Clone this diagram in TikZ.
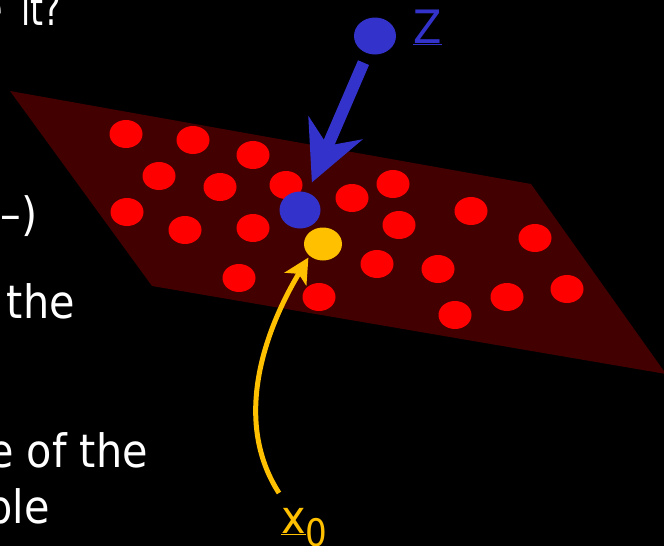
\documentclass[tikz,border=0pt]{standalone}
\usepackage{fontspec}
\setmainfont{DejaVu Sans}[FakeStretch=0.9]
\usetikzlibrary{shapes.geometric,arrows.meta}
\definecolor{planecol}{HTML}{420000}
\definecolor{dotred}{HTML}{FF0000}
\definecolor{dotblue}{HTML}{3333CC}
\definecolor{dotyel}{HTML}{FFC000}
\begin{document}
\begin{tikzpicture}[x=1pt,y=-1pt,
  reddot/.style={ellipse,fill=dotred,minimum width=33pt,minimum height=28pt,inner sep=0pt},
  bluedot/.style={ellipse,fill=dotblue,minimum width=41pt,minimum height=37pt,inner sep=0pt},
  yeldot/.style={ellipse,fill=dotyel,minimum width=38pt,minimum height=33pt,inner sep=0pt},
  slidetext/.style={text=white,font=\fontsize{46}{55}\selectfont,inner sep=0pt,anchor=base east},
  labeltext/.style={font=\fontsize{46}{55}\selectfont,inner sep=0pt,anchor=base west}]
\fill[black] (0,0) rectangle (664,546);
\useasboundingbox (0,0) rectangle (664,546);
% plane
\fill[planecol] (10,91) -- (531,184) -- (666,374) -- (152,286) -- cycle;
% slide text fragments
\node[slidetext] (t1) at (61,25) {\scalebox{0.8}[1]{e\hspace{9pt} it?}};
\node[slidetext] (t2) at (38,230) {–)};
\node[slidetext] (t3) at (75,318) {the};
\node[slidetext] (t4) at (148,467) {e of the};
\node[slidetext] (t5) at (50,523) {ble};
% red dots
\foreach \p [count=\i] in {(126,134),(193,140),(253,155),(159,176),(220,187),(286,185),
  (127,212),(185,230),(253,228),(352,198),(393,184),(399,225),(471,211),(535,238),
  (377,264),(438,269),(319,297),(455,315),(507,297),(567,289),(239,278)}
  \node[reddot] (r\i) at \p {};
% blue and yellow dots
\node[bluedot] (bd) at (300,210) {};
\node[yeldot] (yd) at (323,244) {};
\node[bluedot,minimum width=42pt] (zd) at (375,36) {};
% labels
\node[labeltext,text=dotblue] (zl) at (413,43) {\underline{Z}};
\node[labeltext,text=dotyel] (xl) at (281,533) {\underline{x}\raisebox{-13pt}{\fontsize{38}{40}\selectfont 0}};
\coordinate (ys) at (279,493);
% arrows
\draw[dotblue,line width=12pt,shorten <=29pt,shorten >=30pt,
  -{Stealth[length=59pt,width=58pt,inset=19pt]}] (zd.center) -- (bd.center);
\draw[dotyel,line width=5pt,shorten >=2pt,
  -{Stealth[length=25pt,width=25pt,inset=6pt]}] (ys) .. controls (232,420) and (265,330) .. (yd.south west);
\end{tikzpicture}
\end{document}
